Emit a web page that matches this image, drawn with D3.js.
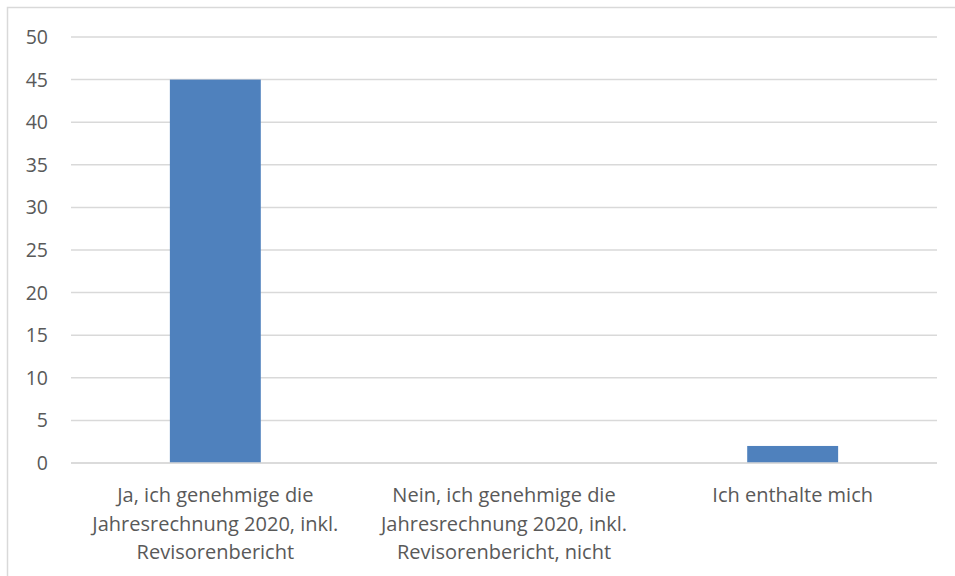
<!DOCTYPE html>
<html><head><meta charset="utf-8">
<script src="https://cdn.jsdelivr.net/npm/d3@7"></script>
<style>body{margin:0;background:#fff}svg{display:block}</style>
</head><body>
<script>
const categories = [
  ["Ja, ich genehmige die", "Jahresrechnung 2020, inkl.", "Revisorenbericht"],
  ["Nein, ich genehmige die", "Jahresrechnung 2020, inkl.", "Revisorenbericht, nicht"],
  ["Ich enthalte mich"]
];
const values = [45, 0, 2];
const yTicks = [0, 5, 10, 15, 20, 25, 30, 35, 40, 45, 50];

const W = 955, H = 576;
const margin = {left: 71, right: 18, top: 37, bottom: 113};
const svg = d3.select("body").append("svg").attr("width", W).attr("height", H);
const font = "'Open Sans', sans-serif";

svg.append("rect").attr("x", 7.5).attr("y", 7.5).attr("width", W + 10).attr("height", H + 10)
  .attr("fill", "#fff").attr("stroke", "#d9d9d9").attr("stroke-width", 1.5);

const x = d3.scaleBand().domain(d3.range(categories.length)).range([margin.left, W - margin.right]).paddingInner(0.685).paddingOuter(0.3425);
const y = d3.scaleLinear().domain([0, 50]).range([H - margin.bottom, margin.top]);

const g = svg.append("g");
g.selectAll("line.grid").data(yTicks).join("line").attr("class", "grid")
  .attr("x1", margin.left).attr("x2", W - margin.right)
  .attr("y1", d => y(d)).attr("y2", d => y(d))
  .attr("stroke", "#d9d9d9").attr("stroke-width", 1.5);

g.selectAll("text.yl").data(yTicks).join("text").attr("class", "yl")
  .attr("x", 48).attr("y", d => y(d)).attr("dy", "0.36em")
  .attr("text-anchor", "end").attr("font-family", font).attr("font-size", 19.5).attr("fill", "#595959")
  .text(d => d);

g.selectAll("rect.bar").data(values).join("rect").attr("class", "bar")
  .attr("x", (d, i) => x(i)).attr("width", x.bandwidth())
  .attr("y", d => y(d)).attr("height", d => y(0) - y(d))
  .attr("fill", "#4f81bd");

g.append("line").attr("x1", margin.left).attr("x2", W - margin.right)
  .attr("y1", y(0)).attr("y2", y(0)).attr("stroke", "#d9d9d9").attr("stroke-width", 1.5);

categories.forEach((lines, i) => {
  const cx = x(i) + x.bandwidth() / 2;
  const t = g.append("text").attr("text-anchor", "middle").attr("font-family", font)
    .attr("font-size", 20).attr("fill", "#595959");
  lines.forEach((ln, j) => {
    t.append("tspan").attr("x", cx).attr("y", 502 + j * 28.5).text(ln);
  });
});
</script>
</body></html>
